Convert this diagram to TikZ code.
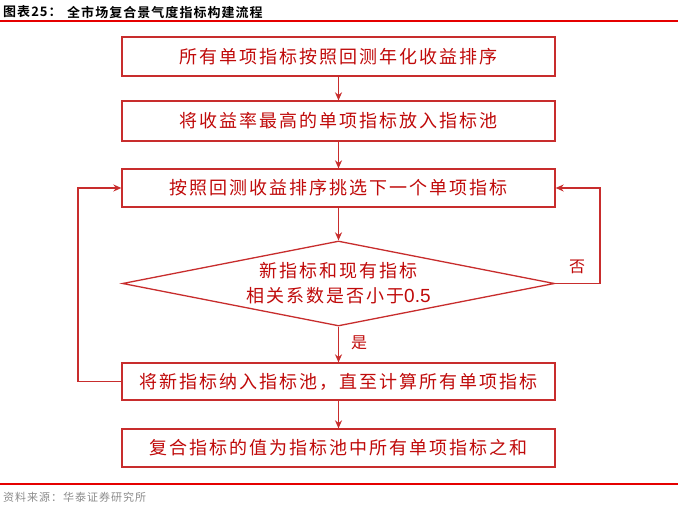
\documentclass[tikz,border=0pt]{standalone}
\usepackage{fontspec}
\usetikzlibrary{shapes.geometric,arrows.meta}
\newfontfamily\cjk{Noto Sans CJK SC}
\newfontfamily\cjksp[LetterSpace=11]{Noto Sans CJK SC}
\newfontfamily\cjksrc[LetterSpace=9]{Noto Sans CJK SC}
\newfontfamily\cjkbold[LetterSpace=8]{Noto Sans CJK SC Bold}
\newfontfamily\latin{Liberation Sans}
\definecolor{boxred}{RGB}{200,45,45}
\definecolor{txtred}{RGB}{192,10,10}
\definecolor{srcgray}{RGB}{140,140,140}
\tikzset{
  stepbox/.style={draw=boxred, line width=1.3pt, rectangle, minimum width=433pt, inner sep=0pt,
    font=\cjksp\fontsize{18}{22}\selectfont, text=txtred},
  decide/.style={draw=boxred, line width=1.3pt, diamond, shape aspect=5.08, inner sep=0pt,
    minimum width=432pt, minimum height=85pt, align=center,
    font=\cjksp\fontsize{18}{25}\selectfont, text=txtred},
  flow/.style={draw=boxred, line width=1.3pt, -{Stealth[length=8pt,width=7pt]}},
  lbl/.style={font=\cjk\fontsize{16}{18}\selectfont, text=txtred, inner sep=0pt},
  rule/.style={draw=red!90!black, line width=1.4pt}
}
\begin{document}
\begin{tikzpicture}[x=1pt,y=-1pt]
\useasboundingbox[fill=white] (0,0) rectangle (700,510);
% header
\node[anchor=west, inner sep=0pt, font=\cjkbold\fontsize{13}{15}\selectfont] (t1) at (3,12) {图表25：};
\node[anchor=west, inner sep=0pt, font=\cjkbold\fontsize{13}{15}\selectfont] (t2) at (67,12) {全市场复合景气度指标构建流程};
\coordinate (hl) at (0,21); \coordinate (hr) at (678,21);
\draw[rule] (hl) -- (hr);
% boxes
\node[stepbox, minimum height=39pt] (b1) at (338.5,56.5) {所有单项指标按照回测年化收益排序};
\node[stepbox, minimum height=40pt] (b2) at (338.5,121) {将收益率最高的单项指标放入指标池};
\node[stepbox, minimum height=38pt] (b3) at (338.5,188) {按照回测收益排序挑选下一个单项指标};
\node[decide] (d) at (338.5,283.5) {新指标和现有指标\\相关系数是否小于{\latin\fontsize{19}{25}\selectfont 0.5}};
\node[stepbox, minimum height=37pt] (b4) at (338.5,381.5) {将新指标纳入指标池，直至计算所有单项指标};
\node[stepbox, minimum height=38pt] (b5) at (338.5,448) {复合指标的值为指标池中所有单项指标之和};
% connectors
\draw[flow] (b1) -- (b2);
\draw[flow] (b2) -- (b3);
\draw[flow] (b3) -- (d);
\draw[flow] (d) -- (b4);
\draw[flow] (b4) -- (b5);
\coordinate (L) at (78,0);
\coordinate (R) at (600,0);
\draw[flow] (b4.west) -- (b4.west -| L) -- (b3.west -| L) -- (b3.west);
\draw[flow] (d.east) -- (d.east -| R) -- (b3.east -| R) -- (b3.east);
\node[lbl] (no) at (577,267) {否};
\node[lbl] (yes) at (359,343) {是};
% footer
\coordinate (fl) at (0,484); \coordinate (fr) at (678,484);
\draw[rule] (fl) -- (fr);
\node[anchor=west, inner sep=0pt, text=srcgray, font=\cjksrc\fontsize{11}{13}\selectfont] (src) at (3,497) {资料来源：华泰证券研究所};
\end{tikzpicture}
\end{document}
